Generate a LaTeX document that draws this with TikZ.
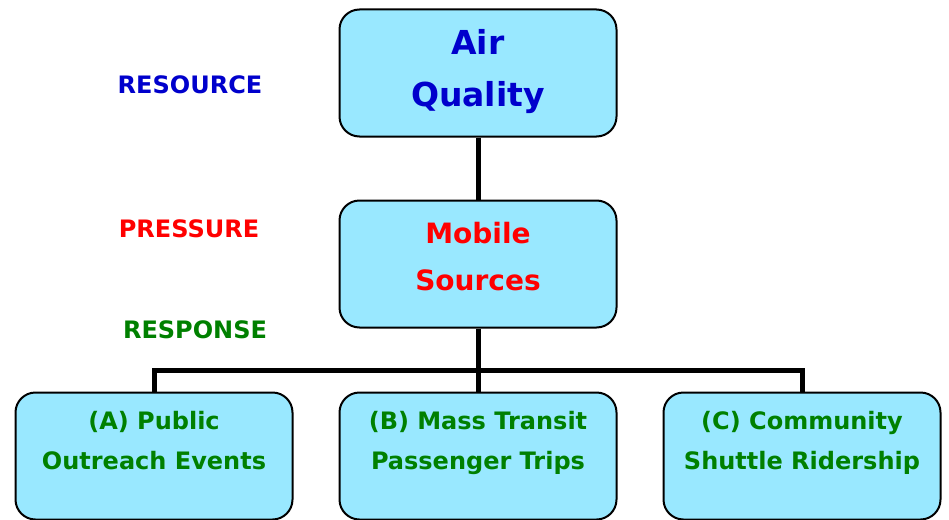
\documentclass[tikz,border=0pt]{standalone}
\usepackage{fontspec}
\setmainfont{DejaVu Sans}
\usetikzlibrary{positioning}
\definecolor{boxfill}{RGB}{153,232,255}
\definecolor{resblue}{RGB}{0,0,204}
\definecolor{presred}{RGB}{255,0,0}
\definecolor{respgreen}{RGB}{0,128,0}
\begin{document}
\begin{tikzpicture}[x=1pt,y=-1pt,
  box/.style={draw=black,line width=2pt,fill=boxfill,rounded corners=20pt,
    minimum width=277pt,minimum height=127pt,inner sep=0pt},
  wire/.style={line width=5pt,black},
  bigtxt/.style={align=center,font=\bfseries\fontsize{33}{52}\selectfont},
  midtxt/.style={align=center,font=\bfseries\fontsize{28}{47}\selectfont},
  smalltxt/.style={align=center,anchor=north,font=\bfseries\fontsize{24}{40}\selectfont,text=respgreen},
  tag/.style={font=\bfseries\fontsize{24}{28}\selectfont}]
\useasboundingbox (0,0) rectangle (949,519);
% boxes
\node[box] (air) at (478,73) {};
\node[box] (mobile) at (478,264) {};
\node[box] (boxA) at (154,456) {};
\node[box] (boxB) at (478,456) {};
\node[box] (boxC) at (802,456) {};
% links
\coordinate (bus) at (478,370);
\draw[wire] (air) -- (mobile);
\draw[wire] (mobile.south) -- (bus);
\foreach \b in {boxA,boxB,boxC}
\draw[wire] (bus) -| (\b.north);
% texts
\node[bigtxt,text=resblue] (airtxt) at (478,72) {Air\\Quality};
\node[midtxt,text=presred] (mobtxt) at (478,257) {Mobile\\Sources};
\node[smalltxt] (atxt) at (154,408) {(A) Public\\Outreach Events};
\node[smalltxt] (btxt) at (478,408) {(B) Mass Transit\\Passenger Trips};
\node[smalltxt] (ctxt) at (802,408) {(C) Community\\Shuttle Ridership};
\node[tag,text=resblue] (resource) at (190,85) {RESOURCE};
\node[tag,text=presred] (pressure) at (189,229) {PRESSURE};
\node[tag,text=respgreen] (response) at (195,330) {RESPONSE};
\end{tikzpicture}
\end{document}
